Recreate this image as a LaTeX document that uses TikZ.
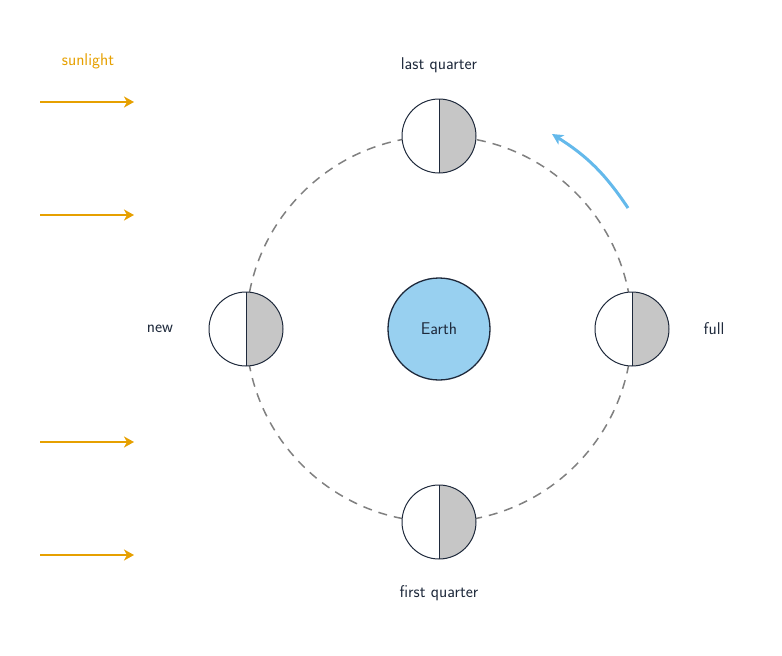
\documentclass[tikz,border=0pt]{standalone}
\usetikzlibrary{arrows.meta}
\definecolor{ink}{RGB}{30, 41, 59}
\definecolor{sun}{RGB}{230, 160, 0}
\definecolor{earthblue}{RGB}{152, 208, 240}
\definecolor{moongray}{RGB}{198, 198, 198}
\definecolor{orbit}{RGB}{128, 128, 128}
\definecolor{spin}{RGB}{100, 185, 235}
\tikzset{
  moon/.style={circle, minimum size=74pt, inner sep=0pt, fill=white, draw=ink, line width=1pt,
    path picture={\fill[moongray] (path picture bounding box.north) rectangle (path picture bounding box.south east);
      \draw[ink, line width=0.6pt] (path picture bounding box.north) -- (path picture bounding box.south);}},
  lbl/.style={text=ink, font=\sffamily\fontsize{17}{20}\selectfont},
  ray/.style={sun, line width=2.5pt, -{Stealth[length=10pt, width=11pt, inset=3pt]}}
}
\begin{document}
\begin{tikzpicture}[x=1pt, y=1pt]
\useasboundingbox (0,0) rectangle (782,-656);
\draw [orbit, line width=1.5pt, dash pattern=on 9pt off 7pt] (439,-329) circle (193pt);
\node (earth) [circle, minimum size=102pt, inner sep=0pt, fill=earthblue, draw=ink, line width=1.3pt, lbl] at (439,-329) {Earth};
\node (lastq) [moon] at (439,-136) {};
\node (firstq) [moon] at (439,-522) {};
\node (new) [moon] at (246,-329) {};
\node (full) [moon] at (632,-329) {};
\node [lbl] at (439,-65) {last quarter};
\node [lbl] at (439,-593) {first quarter};
\node [lbl] at (160,-329) {new};
\node [lbl] at (714,-329) {full};
\node [lbl, text=sun] at (88,-61) {sunlight};
\foreach \y in {102, 215, 442, 555} {
  \coordinate (s\y) at (40,-\y);
  \coordinate (e\y) at (134,-\y);
  \draw [ray] (s\y) -- (e\y);
}
\coordinate (spina) at (628,-208);
\coordinate (spinb) at (552,-134);
\draw [spin, line width=3pt, -{Stealth[length=11pt, width=11pt, inset=3pt]}] (spina) to [bend right=12] (spinb);
\end{tikzpicture}
\end{document}
